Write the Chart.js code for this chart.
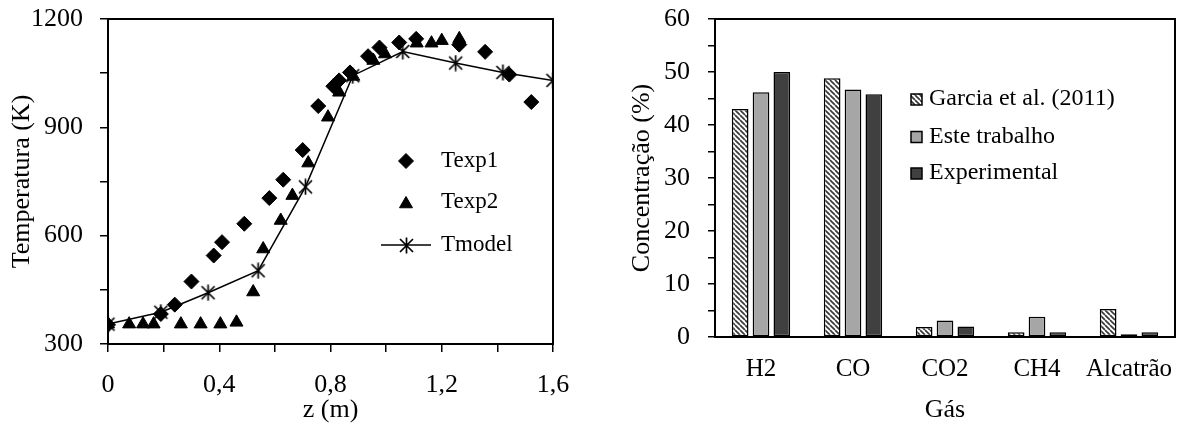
<!DOCTYPE html>
<html><head><meta charset="utf-8">
<script src="https://cdn.jsdelivr.net/npm/chart.js@4.4.1/dist/chart.umd.min.js"></script>
<style>
html,body{margin:0;padding:0;background:#fff;overflow:hidden;width:1179px;height:423px}
#c1{position:absolute;left:0;top:0}
#c2{position:absolute;left:600px;top:0}
</style></head><body>
<canvas id="c1" width="580" height="423"></canvas>
<canvas id="c2" width="579" height="423"></canvas>
<script>
// ---- Left chart data: temperature profile ----
const texp1Z = [0, 0.19, 0.24, 0.30, 0.38, 0.41, 0.49, 0.58, 0.63, 0.70, 0.756, 0.81, 0.831, 0.87, 0.935, 0.976, 1.047, 1.108, 1.263, 1.356, 1.443, 1.522];
const texp1T = [353, 383, 409, 473, 545, 582, 633, 704, 755, 837, 959, 1014, 1030, 1052, 1097, 1121, 1135, 1145, 1129, 1109, 1046, 970];
const texp2Z = [0, 0.076, 0.126, 0.164, 0.262, 0.333, 0.404, 0.462, 0.522, 0.558, 0.621, 0.663, 0.72, 0.791, 0.831, 0.882, 0.954, 0.996, 1.11, 1.163, 1.2, 1.263];
const texp2T = [355, 355, 355, 355, 355, 355, 355, 360, 444, 563, 642, 711, 801, 928, 997, 1041, 1085, 1103, 1133, 1133, 1140, 1145];
const tmodelZ = [0, 0.19, 0.36, 0.54, 0.71, 0.88, 1.06, 1.25, 1.42, 1.6];
const tmodelT = [355, 388, 442, 503, 735, 1043, 1110, 1078, 1052, 1030];
const zTickLabels = ['0', '0,4', '0,8', '1,2', '1,6'];

// ---- Right chart data: gas composition ----
const gases = ['H2', 'CO', 'CO2', 'CH4', 'Alcatrão'];
const garcia = [43.0, 48.8, 1.9, 0.9, 5.3];
const esteTrabalho = [46.2, 46.7, 3.1, 3.8, 0.5];
const experimental = [50.0, 45.8, 2.0, 0.9, 0.9];

const FONT = "'Liberation Serif', 'Times New Roman', serif";
Chart.defaults.font.family = FONT;
Chart.defaults.color = '#000';

function zeroPad(s){ s.paddingLeft = 0; s.paddingRight = 0; s.paddingTop = 0; s.paddingBottom = 0; }

// star marker (x + vertical bar)
function makeStar(){
  const c = document.createElement('canvas'); c.width = 17; c.height = 17;
  const g = c.getContext('2d');
  g.strokeStyle = '#000'; g.lineWidth = 1.7; g.lineCap = 'butt';
  g.beginPath();
  g.moveTo(2,2); g.lineTo(15,15);
  g.moveTo(15,2); g.lineTo(2,15);
  g.moveTo(8.5,0.5); g.lineTo(8.5,16.5);
  g.stroke();
  return c;
}
const starImg = makeStar();

const boxPlugin = {
  id: 'box',
  afterDraw(chart){
    const {ctx, chartArea: a} = chart;
    ctx.save();
    ctx.strokeStyle = '#000'; ctx.lineWidth = 2;
    ctx.strokeRect(a.left, a.top, a.right - a.left, a.bottom - a.top);
    ctx.restore();
  }
};

const legend1 = {
  id: 'legend1',
  afterDraw(chart){
    const {ctx, chartArea: a} = chart;
    const mx = a.left + 298, tx = a.left + 333;
    const rows = [a.top + 142, a.top + 183, a.top + 226];
    ctx.save();
    ctx.fillStyle = '#000'; ctx.strokeStyle = '#000';
    Chart.helpers.drawPoint(ctx, {pointStyle: 'rectRot', radius: 7.5, borderWidth: 1}, mx, rows[0]);
    Chart.helpers.drawPoint(ctx, {pointStyle: 'triangle', radius: 7.5, borderWidth: 1}, mx, rows[1] + 2);
    ctx.lineWidth = 1.5;
    ctx.beginPath(); ctx.moveTo(mx - 25, rows[2]); ctx.lineTo(mx + 25, rows[2]); ctx.stroke();
    ctx.drawImage(starImg, Math.round(mx - 8.5), Math.round(rows[2] - 8.5));
    ctx.font = "23px " + FONT;
    ctx.textBaseline = 'middle'; ctx.textAlign = 'left';
    ctx.fillText('Texp1', tx, rows[0]);
    ctx.fillText('Texp2', tx, rows[1]);
    ctx.fillText('Tmodel', tx, rows[2]);
    ctx.restore();
  }
};

const toPts = (xs, ys) => xs.map((x, i) => ({x: x, y: ys[i]}));

new Chart(document.getElementById('c1'), {
  type: 'scatter',
  data: {
    datasets: [
      {label: 'Texp1', data: toPts(texp1Z, texp1T), pointStyle: 'rectRot', pointRadius: 7.5,
       backgroundColor: '#000', borderColor: '#000', borderWidth: 1, showLine: false},
      {label: 'Texp2', data: toPts(texp2Z, texp2T), pointStyle: 'triangle', pointRadius: 7.5,
       backgroundColor: '#000', borderColor: '#000', borderWidth: 1, showLine: false},
      {label: 'Tmodel', data: toPts(tmodelZ, tmodelT), pointStyle: starImg, pointRadius: 8,
       backgroundColor: '#000', borderColor: '#000', borderWidth: 1.5, showLine: true, tension: 0}
    ]
  },
  options: {
    responsive: false, animation: false, devicePixelRatio: 1,
    layout: {padding: {top: 19, right: 27, left: 0, bottom: 0}},
    plugins: {legend: {display: false}, tooltip: {enabled: false}},
    scales: {
      x: {
        type: 'linear', min: 0, max: 1.6,
        afterFit: s => { s.height = 79; zeroPad(s); },
        ticks: {stepSize: 0.2, autoSkip: false, maxRotation: 0, padding: 20,
          font: {size: 26, lineHeight: 1},
          callback: v => { const r = Math.round(v * 10); return r % 4 === 0 ? zTickLabels[r / 4] : ''; }},
        grid: {display: true, drawOnChartArea: false, drawTicks: true, tickLength: 8, color: '#000', lineWidth: 1.5},
        border: {display: true, color: '#000', width: 2},
        title: {display: true, text: 'z (m)', font: {size: 26, lineHeight: 1}, padding: {top: 0, bottom: 0}}
      },
      y: {
        min: 300, max: 1200,
        afterFit: s => { s.width = 108; zeroPad(s); },
        ticks: {stepSize: 150, autoSkip: false, padding: 17, font: {size: 26, lineHeight: 1},
          callback: v => (v % 300 === 0 ? String(v) : '')},
        grid: {display: true, drawOnChartArea: false, drawTicks: true, tickLength: 8, color: '#000', lineWidth: 1.5},
        border: {display: true, color: '#000', width: 2},
        title: {display: true, text: 'Temperatura (K)', font: {size: 26, lineHeight: 1}, padding: {top: 9, bottom: 0}}
      }
    }
  },
  plugins: [boxPlugin, legend1]
});

// hatched pattern
const c2 = document.getElementById('c2');
const ctx2 = c2.getContext('2d');
function makeHatch(){
  const t = document.createElement('canvas'); t.width = 5; t.height = 5;
  const g = t.getContext('2d');
  g.fillStyle = '#fff'; g.fillRect(0, 0, 5, 5);
  g.strokeStyle = '#3a3a3a'; g.lineWidth = 1.7;
  for (const k of [-5, 0, 5]) { g.beginPath(); g.moveTo(k, 0); g.lineTo(k + 5, 5); g.stroke(); }
  return ctx2.createPattern(t, 'repeat');
}
const hatch = makeHatch();
const GRAY = '#a6a6a6', DARK = '#404040';

const legend2 = {
  id: 'legend2',
  afterDraw(chart){
    const {ctx, chartArea: a} = chart;
    const sx = a.left + 196, tx = a.left + 214;
    const rows = [a.top + 80, a.top + 117.5, a.top + 154];
    const fills = [hatch, GRAY, DARK];
    const texts = ['Garcia et al. (2011)', 'Este trabalho', 'Experimental'];
    ctx.save();
    ctx.font = "24px " + FONT; ctx.textBaseline = 'middle'; ctx.textAlign = 'left';
    rows.forEach((y, i) => {
      ctx.fillStyle = fills[i];
      ctx.fillRect(sx, y - 5, 11, 11);
      ctx.strokeStyle = '#000'; ctx.lineWidth = 1.5;
      ctx.strokeRect(sx, y - 5, 11, 11);
      ctx.fillStyle = '#000';
      ctx.fillText(texts[i], tx, y);
    });
    ctx.restore();
  }
};

const barDs = (label, data, fill) => ({
  label, data, backgroundColor: fill, borderColor: '#000', borderWidth: 1.5, borderSkipped: false,
  categoryPercentage: 0.68, barPercentage: 0.8
});

new Chart(c2, {
  type: 'bar',
  data: {
    labels: gases,
    datasets: [
      barDs('Garcia et al. (2011)', garcia, hatch),
      barDs('Este trabalho', esteTrabalho, GRAY),
      barDs('Experimental', experimental, DARK)
    ]
  },
  options: {
    responsive: false, animation: false, devicePixelRatio: 1,
    layout: {padding: {top: 19, right: 4, left: 0, bottom: 0}},
    plugins: {legend: {display: false}, tooltip: {enabled: false}},
    scales: {
      x: {
        afterFit: s => { s.height = 86; zeroPad(s); },
        ticks: {autoSkip: false, maxRotation: 0, padding: 20, font: {size: 25, lineHeight: 1}},
        grid: {display: false, drawTicks: false},
        border: {display: true, color: '#000', width: 2},
        title: {display: true, text: 'Gás', font: {size: 26, lineHeight: 1}, padding: {top: 0, bottom: 0}}
      },
      y: {
        min: 0, max: 60,
        afterFit: s => { s.width = 115; zeroPad(s); },
        ticks: {stepSize: 5, autoSkip: false, padding: 18, font: {size: 26, lineHeight: 1},
          callback: v => (v % 10 === 0 ? String(v) : '')},
        grid: {display: true, drawOnChartArea: false, drawTicks: true, tickLength: 7, color: '#000', lineWidth: 1.5},
        border: {display: true, color: '#000', width: 2},
        title: {display: true, text: 'Concentração (%)', font: {size: 26, lineHeight: 1}, padding: {top: 29, bottom: 0}}
      }
    }
  },
  plugins: [boxPlugin, legend2]
});
</script>
</body></html>
